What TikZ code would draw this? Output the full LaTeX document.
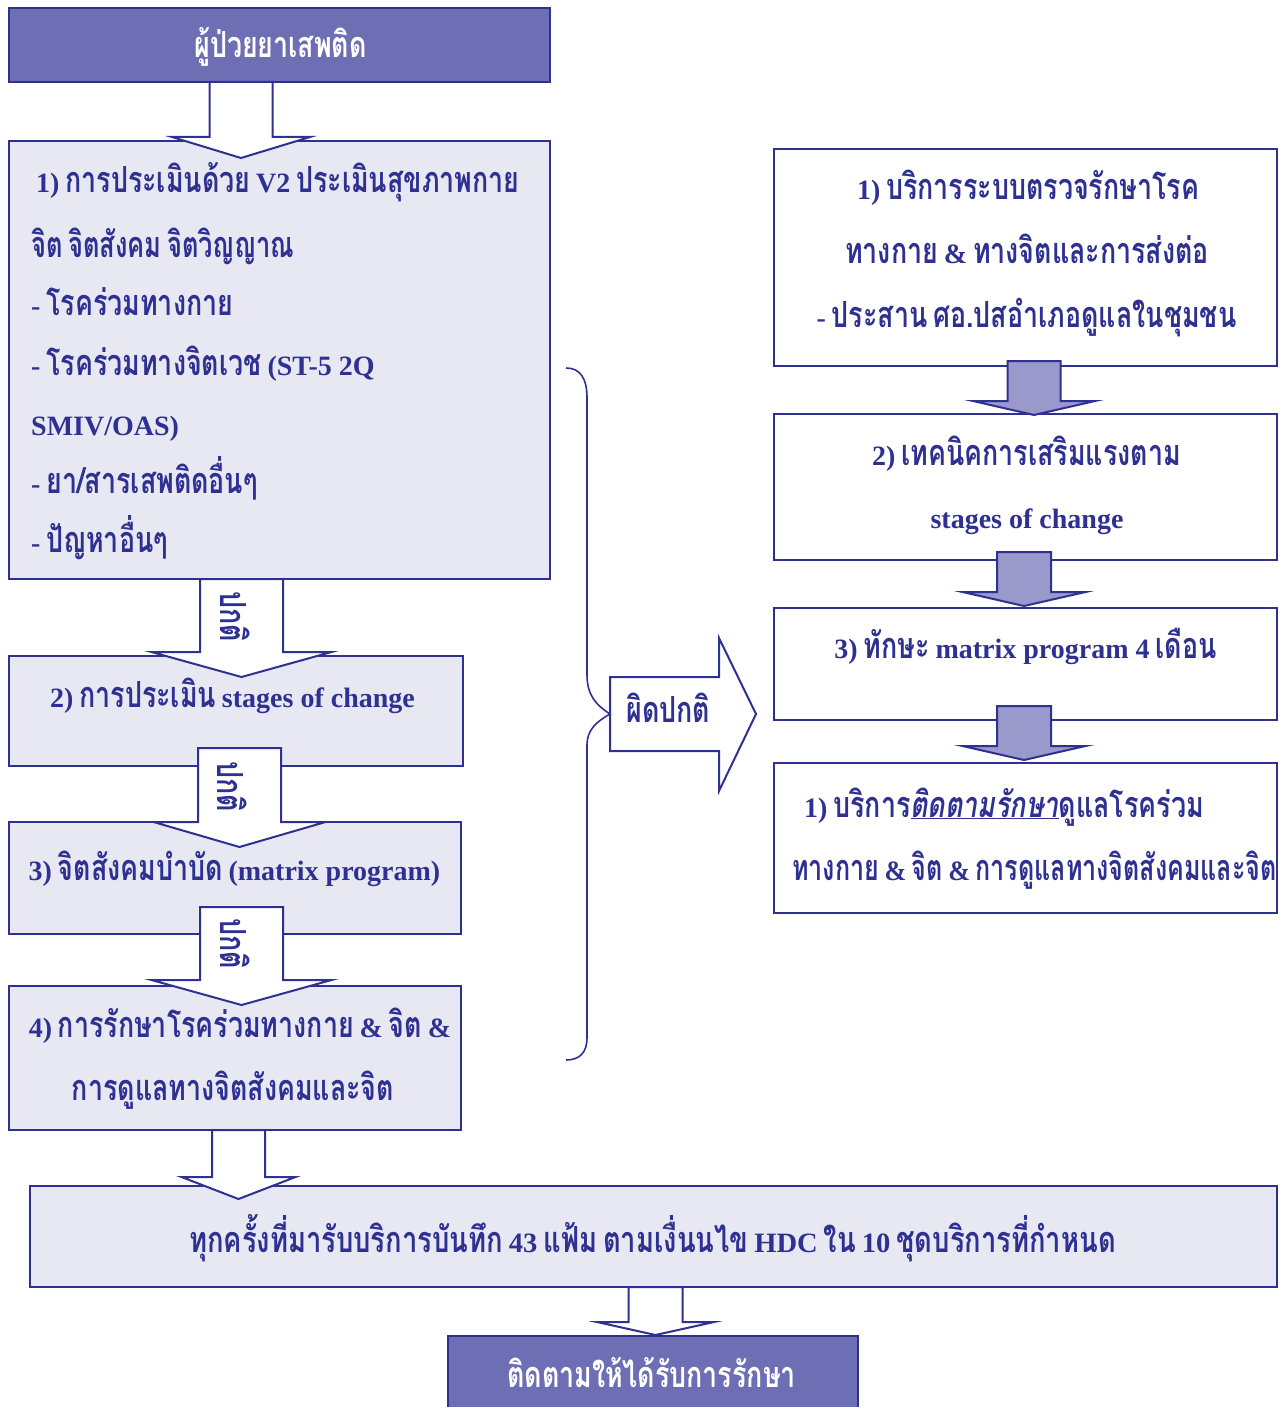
\documentclass[tikz,border=0pt]{standalone}
\usepackage{fontspec}
\setmainfont{Liberation Serif}
\newfontfamily\thaifont[Script=Thai,FakeStretch=0.745,WordSpace=0.65]{Loma}
\newfontfamily\latfont{Liberation Serif}
\newcommand\Tf{\thaifont\bfseries\fontsize{36}{40}\selectfont}
\newcommand\La[1]{{\latfont\bfseries\fontsize{28}{30}\selectfont #1}}
\definecolor{dblue}{RGB}{46,49,146}
\definecolor{lfill}{RGB}{232,232,243}
\definecolor{purp}{RGB}{110,110,180}
\definecolor{afill}{RGB}{153,153,204}
\newcommand\blockdown[7]{%
  \draw[#1] ({#2-#6},#3) -- ({#2-#6},#4) -- ({#2-#7},#4) -- (#2,#5) -- ({#2+#7},#4) -- ({#2+#6},#4) -- ({#2+#6},#3) -- cycle;}
\begin{document}
\begin{tikzpicture}[x=1pt,y=-1pt,
  lbox/.style={draw=dblue,line width=2pt,fill=lfill,inner sep=0pt},
  wbox/.style={draw=dblue,line width=2pt,fill=white,inner sep=0pt},
  pbox/.style={draw=dblue,line width=2pt,fill=purp,inner sep=0pt},
  tx/.style={text=dblue,inner sep=0pt,font=\Tf,anchor=base},
  txl/.style={tx,anchor=base west},
  wtx/.style={tx,text=white},
  warrow/.style={draw=dblue,line width=2pt,fill=white,line join=miter},
  parrow/.style={draw=dblue,line width=2pt,fill=afill,line join=miter},
  brace/.style={draw=dblue,line width=1.6pt}]
\useasboundingbox (0,0) rectangle (1283,1407);
% boxes
\node[pbox,minimum width=541pt,minimum height=74pt] (top) at (279.5,45) {};
\node[lbox,minimum width=541pt,minimum height=438pt] (b1) at (279.5,360) {};
\node[lbox,minimum width=454pt,minimum height=110pt] (b2) at (236,711) {};
\node[lbox,minimum width=452pt,minimum height=112pt] (b3) at (235,878) {};
\node[lbox,minimum width=452pt,minimum height=144pt] (b4) at (235,1058) {};
\node[lbox,minimum width=1247pt,minimum height=101pt] (b5) at (653.5,1236.5) {};
\node[pbox,minimum width=410pt,minimum height=84pt] (b6) at (653,1378) {};
\node[wbox,minimum width=503pt,minimum height=217pt] (r1) at (1025.5,257.5) {};
\node[wbox,minimum width=503pt,minimum height=146pt] (r2) at (1025.5,487) {};
\node[wbox,minimum width=503pt,minimum height=112pt] (r3) at (1025.5,664) {};
\node[wbox,minimum width=503pt,minimum height=150pt] (r4) at (1025.5,838) {};
% block arrows
\blockdown{warrow}{241}{82}{137}{158}{31.5}{69}
\blockdown{warrow}{241.5}{579}{652}{677}{41.5}{90}
\blockdown{warrow}{239.5}{748}{822}{847}{41.5}{86}
\blockdown{warrow}{241.5}{907}{980}{1005}{41.5}{90}
\blockdown{warrow}{238.5}{1130}{1177}{1199}{26.5}{57}
\blockdown{warrow}{655.5}{1287}{1322}{1335}{27}{58.5}
\blockdown{parrow}{1034}{361}{401}{415}{26.5}{61}
\blockdown{parrow}{1024}{552}{592}{606}{27}{61.5}
\blockdown{parrow}{1024}{706}{746}{760}{27}{61.5}
% right block arrow
\coordinate (tipR) at (610,714);
\draw[warrow] (tipR) -- (610,677) -- (719,677) -- (719,638) -- (756,714) -- (719,791) -- (719,751) -- (610,751) -- cycle;
% brace
\draw[brace] (566,368) .. controls (580,368) and (587,378) .. (587,398) -- (587,675) .. controls (587,695) and (596,705) .. (tipR) .. controls (596,722) and (587,730) .. (587,745) -- (587,1038) .. controls (587,1052) and (580,1060) .. (566,1060);
% texts
\node[wtx] (ttop) at (280.5,58) {ผู้ป่วยยาเสพติด};
\node[txl] (t11) at (36,193) {\La{1)} การประเมินด้วย \La{V2} ประเมินสุขภาพกาย};
\node[txl] (t12) at (31,257) {\scalebox{0.95}[1]{จิต จิตสังคม จิตวิญญาณ}};
\node[txl] (t13) at (31,315) {\La{-} โรคร่วมทางกาย};
\node[txl] (t14) at (31,375) {\La{-} โรคร่วมทางจิตเวช \La{(ST-5 2Q}};
\node[txl] (t15) at (31,435) {\La{SMIV/OAS)}};
\node[txl] (t16) at (31,493) {\La{-} ยา/สารเสพติดอื่นๆ};
\node[txl] (t17) at (31,552) {\La{-} ปัญหาอื่นๆ};
\node[tx] (t2) at (232.5,707) {\La{2)} การประเมิน \La{stages of change}};
\node[tx] (t3) at (234.5,880) {\La{3)} จิตสังคมบำบัด \La{(matrix program)}};
\node[tx] (t41) at (240,1037) {\La{4)} การรักษาโรคร่วมทางกาย \La{\&} จิต \La{\&}};
\node[tx] (t42) at (233,1100) {การดูแลทางจิตสังคมและจิต};
\node[tx] (t5) at (652.5,1252) {\scalebox{1.02}[1]{ทุกครั้งที่มารับบริการบันทึก \La{43} แฟ้ม ตามเงื่นนไข \La{HDC} ใน \La{10} ชุดบริการที่กำหนด}};
\node[wtx] (t6) at (651.5,1387) {ติดตามให้ได้รับการรักษา};
\node[tx] (tr11) at (1028,200) {\La{1)} บริการระบบตรวจรักษาโรค};
\node[tx] (tr12) at (1027,263) {ทางกาย \La{\&} ทางจิตและการส่งต่อ};
\node[tx] (tr13) at (1026.5,327) {\La{-} ประสาน ศอ.ปสอำเภอดูแลในชุมชน};
\node[tx] (tr21) at (1026.5,465) {\La{2)} เทคนิคการเสริมแรงตาม};
\node[tx] (tr22) at (1027,528) {\La{stages of change}};
\node[tx] (tr3) at (1025.5,658) {\La{3)} ทักษะ \La{matrix program 4} เดือน};
\node[tx] (tr41) at (1004,817) {\La{1)} บริการ\underline{\itshape ติดตามรักษา}ดูแลโรคร่วม};
\node[tx] (tr42) at (1034.5,880) {\scalebox{0.935}[1]{ทางกาย \La{\&} จิต \La{\&} การดูแลทางจิตสังคมและจิต}};
\node[tx] (tab) at (668.5,722) {ผิดปกติ};
\node[tx,anchor=center,rotate=-90] (n1) at (235,617) {ปกติ};
\node[tx,anchor=center,rotate=-90] (n2) at (232,787) {ปกติ};
\node[tx,anchor=center,rotate=-90] (n3) at (235,944) {ปกติ};
\end{tikzpicture}
\end{document}
